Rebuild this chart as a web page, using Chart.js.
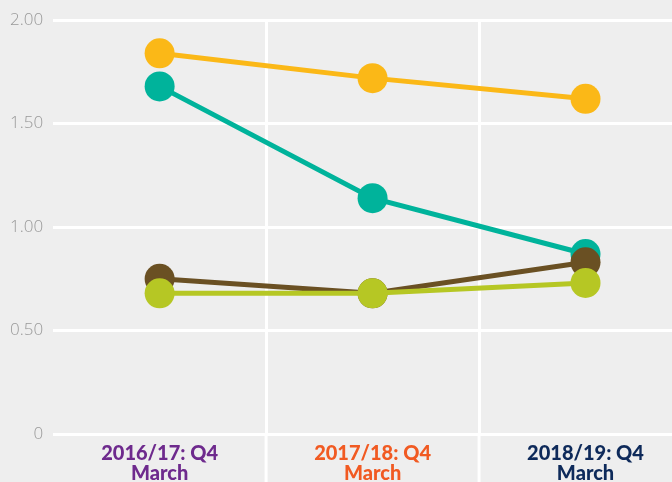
<!DOCTYPE html>
<html>
<head>
<meta charset="utf-8">
<script src="https://cdn.jsdelivr.net/npm/chart.js@4/dist/chart.umd.min.js"></script>
<style>
  html, body { margin: 0; padding: 0; background: #eeeeee; }
  #wrap { width: 672px; height: 482px; overflow: hidden; }
</style>
</head>
<body>
<div id="wrap"><canvas id="myChart" width="692" height="494"></canvas></div>
<script>
// categories and their label colours
const categories = [["2016/17: Q4", "March"], ["2017/18: Q4", "March"], ["2018/19: Q4", "March"]];
const categoryColors = ["#6e2a8d", "#f15a22", "#0e2a5a"];

// series
const yellowValues = [1.84, 1.72, 1.62];
const tealValues = [1.68, 1.14, 0.87];
const brownValues = [0.75, 0.68, 0.83];
const limeValues = [0.68, 0.68, 0.73];

const yTicks = [0, 0.5, 1, 1.5, 2];

function series(data, color, order) {
    return {
        data: data,
        borderColor: color,
        backgroundColor: color,
        pointBackgroundColor: color,
        borderWidth: 5,
        pointRadius: 15,
        pointHoverRadius: 15,
        pointBorderWidth: 0,
        tension: 0,
        order: order,
    };
}

// carry the category separator lines down through the label area
const separatorPlugin = {
    id: "separators",
    beforeDatasetsDraw(chart) {
        const x = chart.scales.x;
        const c = chart.ctx;
        c.save();
        c.strokeStyle = "#ffffff";
        c.lineWidth = 3;
        for (let i = 1; i < categories.length; i++) {
            const px = (x.getPixelForTick(i - 1) + x.getPixelForTick(i)) / 2;
            c.beginPath();
            c.moveTo(px, chart.chartArea.bottom);
            c.lineTo(px, chart.height);
            c.stroke();
        }
        c.restore();
    },
};

const ctx = document.getElementById("myChart").getContext("2d");
const myChart = new Chart(ctx, {
    type: "line",
    data: {
        labels: categories,
        datasets: [
            series(yellowValues, "#fbb817", 0),
            series(limeValues, "#b6c724", 1),
            series(brownValues, "#6a5023", 2),
            series(tealValues, "#00b39b", 3),
        ],
    },
    plugins: [separatorPlugin],
    options: {
        responsive: false,
        animation: false,
        layout: { autoPadding: false, padding: { top: 8, right: 0, left: 0, bottom: 0 } },
        plugins: { legend: { display: false }, tooltip: { enabled: false } },
        scales: {
            x: {
                offset: true,
                border: { display: false },
                grid: {
                    offset: true,
                    color: (c) => (c.index === 0 ? "rgba(0,0,0,0)" : "#ffffff"),
                    lineWidth: 3,
                    drawTicks: false,
                },
                ticks: {
                    padding: 10,
                    maxRotation: 0,
                    autoSkip: false,
                    color: (c) => categoryColors[c.index],
                    font: { family: "Lato", weight: "900", size: 20, lineHeight: 1.0 },
                },
            },
            y: {
                min: 0,
                max: 2,
                border: { display: false },
                afterBuildTicks: (axis) => {
                    axis.ticks = yTicks.map((v) => ({ value: v }));
                },
                grid: { color: "#ffffff", lineWidth: 3, drawTicks: false },
                ticks: {
                    padding: 10,
                    color: "#999999",
                    font: { family: "Open Sans", weight: "300", size: 17 },
                    callback: (v) => (v === 0 ? "0" : v.toFixed(2)),
                },
            },
        },
    },
});
</script>
</body>
</html>
